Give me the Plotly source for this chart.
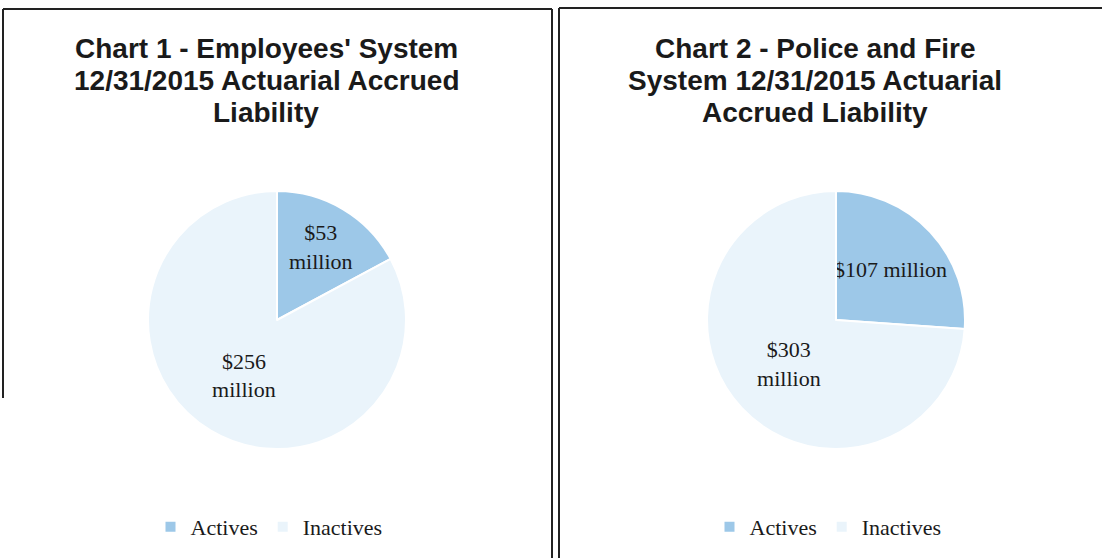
import plotly.graph_objects as go

# ---- data ----
categories = ["Actives", "Inactives"]
employees_values = [53, 256]          # $ million
police_fire_values = [107, 303]       # $ million
employees_text = ["$%{value}<br>million", "$%{value}<br>million"]
police_fire_text = ["$%{value} million", "$%{value}<br>million"]
title1_lines = ["Chart 1 - Employees' System", "12/31/2015 Actuarial Accrued", "Liability"]
title2_lines = ["Chart 2 - Police and Fire", "System 12/31/2015 Actuarial", "Accrued Liability"]

colors = ["#9DC8E8", "#EAF4FB"]
W, H = 1102, 558

def px(x):
    return x / W

def py(y):
    return 1 - y / H

serif = "Liberation Serif, Times New Roman, serif"
sans = "Liberation Sans, Arial, sans-serif"

fig = go.Figure()
fig.add_trace(go.Pie(
    labels=categories, values=employees_values, sort=False, direction="clockwise",
    marker=dict(colors=colors, line=dict(color="white", width=2)),
    texttemplate=employees_text, textposition="inside", insidetextorientation="horizontal",
    textfont=dict(family=serif, size=22, color="#1a1a1a"),
    domain=dict(x=[px(148), px(406)], y=[py(449), py(191)]),
    legend="legend", legendgroup="g1", hoverinfo="label+value",
))
fig.add_trace(go.Pie(
    labels=categories, values=police_fire_values, sort=False, direction="clockwise",
    marker=dict(colors=colors, line=dict(color="white", width=2)),
    texttemplate=police_fire_text, textposition="inside", insidetextorientation="horizontal",
    textfont=dict(family=serif, size=22, color="#1a1a1a"),
    domain=dict(x=[px(707), px(965)], y=[py(449), py(191)]),
    legend="legend2", legendgroup="g2", hoverinfo="label+value",
))

title_font = dict(family=sans, size=28, color="#1a1a1a", weight="bold")
line_y = [48, 80, 113]
annotations = []
for lines, cx in ((title1_lines, 266), (title2_lines, 815)):
    for txt, ly in zip(lines, line_y):
        annotations.append(dict(text=txt, x=px(cx), y=py(ly), xref="paper", yref="paper",
                                xanchor="center", yanchor="middle", showarrow=False,
                                font=title_font))

line_style = dict(color="#222222", width=2)
shapes = [
    dict(type="line", xref="paper", yref="paper", x0=px(3), x1=px(552), y0=py(9), y1=py(9), line=line_style),
    dict(type="line", xref="paper", yref="paper", x0=px(3), x1=px(3), y0=py(9), y1=py(398), line=line_style),
    dict(type="line", xref="paper", yref="paper", x0=px(552), x1=px(552), y0=py(9), y1=0, line=line_style),
    dict(type="line", xref="paper", yref="paper", x0=px(559), x1=1, y0=py(8), y1=py(8), line=line_style),
    dict(type="line", xref="paper", yref="paper", x0=px(559), x1=px(559), y0=py(8), y1=0, line=line_style),
]

legend_font = dict(family=serif, size=22, color="#1a1a1a")
fig.update_layout(
    width=W, height=H,
    margin=dict(l=0, r=0, t=0, b=0),
    paper_bgcolor="white", plot_bgcolor="white",
    annotations=annotations, shapes=shapes,
    uniformtext=dict(minsize=22, mode="show"),
    legend=dict(orientation="h", x=px(269), y=py(527), xanchor="center", yanchor="middle",
                traceorder="normal", font=legend_font, bgcolor="rgba(0,0,0,0)"),
    legend2=dict(orientation="h", x=px(828), y=py(527), xanchor="center", yanchor="middle",
                 traceorder="normal", font=legend_font, bgcolor="rgba(0,0,0,0)"),
)

fig.write_html("out.html", config={"displayModeBar": False},
               post_script="document.body.style.margin='0';document.body.style.overflow='hidden';")
